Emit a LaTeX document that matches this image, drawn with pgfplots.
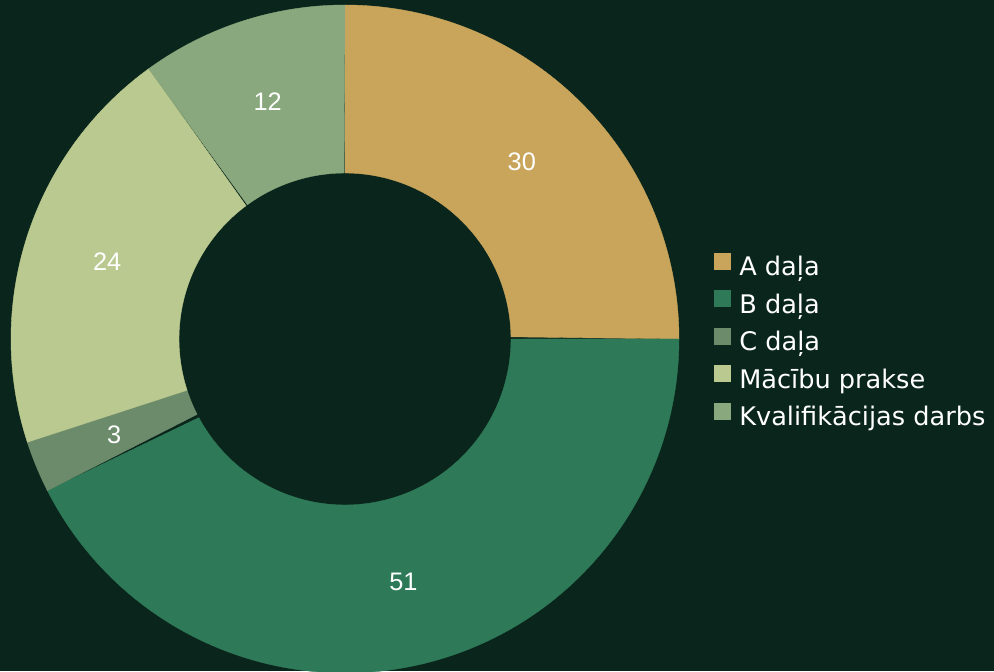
\documentclass[border=0pt]{standalone}
\usepackage{pgfplots}
\pgfplotsset{compat=1.18}
\usepackage{fontspec}
\setmainfont{DejaVu Sans}
\newfontfamily\labelfont{Liberation Sans}
\definecolor{bg}{HTML}{0A261C}
\definecolor{cA}{HTML}{C9A55C}
\definecolor{cB}{HTML}{2E7A58}
\definecolor{cC}{HTML}{6B8B6B}
\definecolor{cD}{HTML}{BAC98F}
\definecolor{cE}{HTML}{8AA87E}
\def\total{120}
\def\ro{334}
\def\ri{166}
\gdef\cum{0}
\newcommand\sector[3]{%
  \pgfmathsetmacro\aS{90-\cum/\total*360}%
  \pgfmathsetmacro\aE{90-(\cum+#1)/\total*360}%
  \addplot[fill=#2, draw=#2, line width=0.3pt, domain=0:2, samples=241, variable=\t]
    ({(\t<=1 ? \ro : \ri)*cos(\t<=1 ? \aS+(\aE-\aS)*\t : \aE-(\aE-\aS)*(\t-1))},
     {(\t<=1 ? \ro : \ri)*sin(\t<=1 ? \aS+(\aE-\aS)*\t : \aE-(\aE-\aS)*(\t-1))}) -- cycle;
  \addlegendentry{#3}
  \pgfmathsetmacro\aM{(\aS+\aE)/2}%
  \pgfmathsetmacro\lx{250*cos(\aM)}%
  \pgfmathsetmacro\ly{250*sin(\aM)}%
  \edef\temp{\noexpand\node[text=white, font=\noexpand\labelfont\noexpand\fontsize{19}{21}\noexpand\selectfont] at (axis cs:\lx,\ly) {#1};}%
  \temp
  \pgfmathsetmacro\newcum{\cum+#1}%
  \xdef\cum{\newcum}%
}
\begin{document}
\begin{tikzpicture}
\fill[bg] (0,0) rectangle (745.5pt,503.25pt);
\useasboundingbox (0,0) rectangle (745.5pt,503.25pt);
\begin{axis}[at={(0,0)}, anchor=south west, x=0.75pt, y=0.75pt,
  xmin=-345, xmax=649, ymin=-332, ymax=339, hide axis, clip=false,
  legend cell align=left,
  legend image code/.code={\fill[#1] (0pt,0pt) rectangle (12pt,12pt);},
  legend style={at={(0.7183,0.4896)}, anchor=west, draw=none, fill=none,
    text=white, inner sep=0pt, font=\fontsize{19.2}{22}\selectfont,
    nodes={inner sep=0pt, text height=15pt, text depth=5pt},
    column sep=6.5pt, row sep=6pt}]
\sector{30}{cA}{A daļa}
\sector{51}{cB}{B daļa}
\sector{3}{cC}{C daļa}
\sector{24}{cD}{Mācību prakse}
\sector{12}{cE}{Kvalifikācijas darbs}
\end{axis}
\end{tikzpicture}
\end{document}
